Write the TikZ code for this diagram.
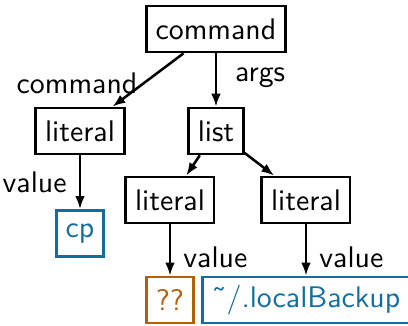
\documentclass[tikz,border=0pt]{standalone}
\usepackage{xcolor}
\usepackage{tikz}
\usetikzlibrary{arrows.meta}
\definecolor{valblue}{RGB}{16,110,160}
\definecolor{holebrown}{RGB}{180,95,10}

\begin{document}
\begin{tikzpicture}[x=0.0125cm, y=-0.0125cm,
    every node/.style={font=\sffamily\fontsize{10.6}{12}\selectfont},
    box/.style={rectangle, draw, line width=0.9pt, inner xsep=3.3pt, inner ysep=0pt, minimum height=16.4pt},
    val/.style={box, draw=valblue, text=valblue},
    hole/.style={box, draw=holebrown, text=holebrown},
    arrow/.style={-{Latex[length=4.6pt,width=3.4pt]}, line width=0.9pt}
]
    \useasboundingbox (0,0) rectangle (408,325);

    \node[box] (cmd) at (216,29) {command};
    \node[box] (lit1) at (80,131) {literal};
    \node[box] (lst) at (216,131) {list};
    \node[box] (lit2) at (170,200) {literal};
    \node[box] (lit3) at (306,200) {literal};
    \node[val] (cp) at (80,233.5) {cp};
    \node[hole] (hole) at (170,300) {??};
    \node[val] (dest) at (306,300) {\symbol{"02DC}/.localBackup};

    \draw[arrow] (cmd) -- node[midway, left, yshift=-1pt] {command} (lit1);
    \draw[arrow] (cmd) -- node[midway, right, xshift=3pt, yshift=1pt] {args} (lst);
    \draw[arrow] (lst) -- (lit2);
    \draw[arrow] (lst) -- (lit3);
    \draw[arrow] (lit1) -- node[midway, left, xshift=-1pt] {value} (cp);
    \draw[arrow] (lit2) -- node[midway, right, xshift=1pt, yshift=-2.5pt] {value} (hole);
    \draw[arrow] (lit3) -- node[midway, right, xshift=1pt, yshift=-2.5pt] {value} (dest);
\end{tikzpicture}
\end{document}
